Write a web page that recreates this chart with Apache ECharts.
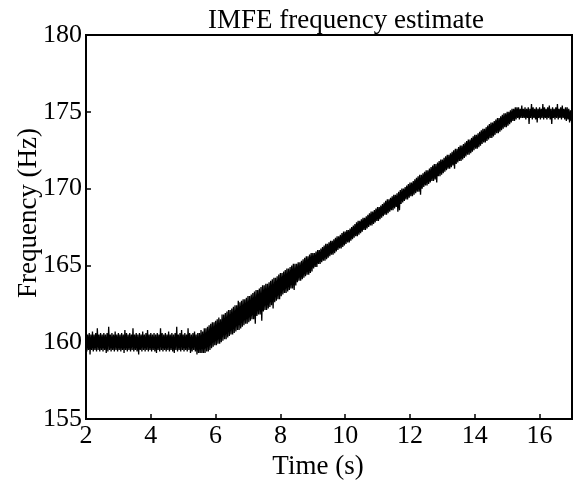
<!DOCTYPE html>
<html>
<head>
<meta charset="utf-8">
<script src="https://cdn.jsdelivr.net/npm/echarts@6/dist/echarts.min.js"></script>
<style>
html,body{margin:0;padding:0;background:#fff;}
#chart{width:574px;height:483px;}
</style>
</head>
<body>
<div id="chart"></div>
<script>
// Sampled IMFE frequency estimate (Hz), one sample every 0.025 s from 2 s to 17 s
var timeStart = 2;
var timeStep = 0.025;
var freqHz = [
  // 2.0 - 2.475
  160.6,159.4,160.5,159.5,160.6,159.2,160.5,159.5,160.7,159.4,160.5,159.5,160.6,159.4,160.9,159.5,160.5,159.4,160.6,159.5,
  // 2.5 - 2.975
  160.5,159.4,160.6,159.5,160.5,159.3,160.6,159.4,161.0,159.5,160.5,159.4,160.6,159.5,160.5,159.4,160.7,159.5,160.5,159.4,
  // 3.0 - 3.475
  160.6,159.5,160.5,159.4,160.6,159.5,160.5,159.3,160.8,159.5,160.6,159.4,160.5,159.5,160.6,159.4,160.5,159.5,160.9,159.4,
  // 3.5 - 3.975
  160.5,159.5,160.6,159.4,160.5,159.2,160.6,159.5,160.5,159.4,160.7,159.5,160.5,159.4,160.6,159.5,160.8,159.4,160.5,159.5,
  // 4.0 - 4.475
  160.6,159.4,160.5,159.5,160.6,159.4,160.5,159.3,160.6,159.5,160.5,159.4,160.9,159.5,160.6,159.4,160.5,159.5,160.6,159.4,
  // 4.5 - 4.975
  160.5,159.5,160.7,159.4,160.5,159.5,160.6,159.4,160.5,159.3,160.6,159.5,161.0,159.4,160.5,159.5,160.6,159.4,160.8,159.5,
  // 5.0 - 5.475
  160.5,159.4,160.6,159.5,160.5,159.4,160.9,159.5,160.6,159.3,160.5,159.4,160.6,159.5,160.7,159.4,160.5,159.2,160.6,159.3,
  // 5.5 - 5.975
  160.6,159.3,160.8,159.3,160.7,159.3,160.9,159.3,160.9,159.4,161.0,159.4,161.1,159.5,161.2,159.6,161.3,159.7,161.3,159.8,
  // 6.0 - 6.475
  161.4,159.8,161.5,159.9,161.6,159.9,161.5,160.0,161.8,160.1,161.8,160.2,161.9,160.2,162.0,160.3,162.1,160.4,162.1,160.5,
  // 6.5 - 6.975
  162.2,160.5,162.3,160.6,162.4,160.7,162.4,160.8,162.7,160.8,162.6,160.9,162.7,161.0,162.8,161.1,162.8,161.2,162.9,161.2,
  // 7.0 - 7.475
  163.0,161.3,163.0,161.4,163.1,161.5,163.2,161.5,163.3,161.2,163.4,161.7,163.4,161.8,163.5,161.8,163.6,161.4,163.7,162.0,
  // 7.5 - 7.975
  163.7,162.1,163.8,162.1,163.8,162.2,163.9,162.3,164.0,162.4,164.1,162.2,164.2,162.6,164.2,162.7,164.3,162.8,164.4,162.8,
  // 8.0 - 8.475
  164.5,163.0,164.5,163.1,164.6,163.2,164.7,163.2,164.8,163.3,164.8,163.4,164.9,163.5,165.0,163.5,165.1,163.4,165.1,163.7,
  // 8.5 - 8.975
  165.1,163.9,165.2,164.0,165.2,164.0,165.3,164.1,165.4,164.2,165.5,164.3,165.6,164.4,165.6,164.4,165.7,164.5,165.8,164.6,
  // 9.0 - 9.475
  165.8,164.8,165.8,164.9,165.9,164.9,166.0,165.1,166.0,165.1,166.1,165.2,166.2,165.3,166.3,165.3,166.4,165.4,166.4,165.5,
  // 9.5 - 9.975
  166.5,165.6,166.6,165.7,166.6,165.7,166.7,165.8,166.8,165.9,166.9,166.0,166.9,166.1,167.0,166.1,167.1,166.2,167.2,166.3,
  // 10.0 - 10.475
  167.2,166.4,167.3,166.5,167.3,166.5,167.4,166.6,167.5,166.7,167.6,166.8,167.7,166.9,167.8,166.9,167.9,167.0,167.9,167.1,
  // 10.5 - 10.975
  168.0,167.2,168.1,167.3,168.1,167.3,168.2,167.4,168.3,167.5,168.4,167.6,168.5,167.6,168.5,167.7,168.6,167.8,168.7,167.9,
  // 11.0 - 11.475
  168.8,167.9,168.8,168.0,168.9,168.1,169.0,168.2,169.1,168.3,169.2,168.3,169.3,168.4,169.3,168.5,169.4,168.6,169.5,168.6,
  // 11.5 - 11.975
  169.6,168.7,169.6,168.8,169.7,168.5,169.8,168.6,169.9,169.0,170.0,169.1,170.0,169.2,170.1,169.3,170.2,169.3,170.3,169.4,
  // 12.0 - 12.475
  170.4,169.5,170.4,169.5,170.5,169.6,170.6,169.7,170.7,169.8,170.8,169.8,170.9,169.6,170.9,170.0,171.0,170.1,171.1,170.2,
  // 12.5 - 12.975
  171.2,170.2,171.2,170.3,171.3,170.4,171.4,170.5,171.5,170.5,171.6,170.6,171.6,170.4,171.7,170.8,171.8,170.8,171.9,170.9,
  // 13.0 - 13.475
  171.9,171.0,172.0,171.1,172.1,171.2,172.2,171.3,172.2,171.3,172.3,171.4,172.4,171.5,172.5,171.3,172.6,171.6,172.6,171.7,
  // 13.5 - 13.975
  172.7,171.8,172.8,171.8,172.8,171.9,172.9,172.0,173.0,172.1,173.1,172.2,173.2,172.2,173.2,172.3,173.3,172.4,173.4,172.5,
  // 14.0 - 14.475
  173.5,172.6,173.5,172.6,173.6,172.7,173.7,172.8,173.8,172.9,173.9,173.0,173.9,173.0,174.0,173.1,174.1,173.2,174.2,173.3,
  // 14.5 - 14.975
  174.3,173.3,174.3,173.4,174.4,173.5,174.5,173.6,174.6,173.6,174.6,173.7,174.7,173.8,174.8,173.9,174.9,174.0,174.9,174.0,
  // 15.0 - 15.475
  175.0,174.1,175.0,174.2,175.1,174.3,175.2,174.4,175.2,174.4,175.3,174.5,175.3,174.6,175.3,174.5,175.2,174.6,175.4,174.6,
  // 15.5 - 15.975
  175.2,174.6,175.3,174.5,175.2,174.6,175.3,174.2,175.2,174.6,175.5,174.5,175.3,174.6,175.2,174.5,175.3,174.3,175.2,174.6,
  // 16.0 - 16.475
  175.3,174.5,175.2,174.6,175.5,174.5,175.3,174.6,175.2,174.5,175.3,174.6,175.4,174.5,175.2,174.2,175.3,174.6,175.2,174.5,
  // 16.5 - 17.0
  175.3,174.6,175.5,174.5,175.2,174.6,175.3,174.5,175.4,174.6,175.2,174.5,175.3,174.4,175.3,174.5,175.2,174.3,175.1,174.4,174.8
];
var xTicks = { min: 2, max: 17, interval: 2 };
var yTicks = { min: 155, max: 180, interval: 5 };
var titleText = 'IMFE frequency estimate';
var xName = 'Time (s)';
var yName = 'Frequency (Hz)';

var seriesData = freqHz.map(function (v, i) {
  return [+(timeStart + i * timeStep).toFixed(3), v];
});

var FONT = '"Liberation Serif", "Times New Roman", serif';
var chart = echarts.init(document.getElementById('chart'), null, { renderer: 'canvas' });
chart.setOption({
  animation: false,
  backgroundColor: '#fff',
  title: {
    text: titleText,
    left: 208,
    top: 7,
    padding: 0,
    textStyle: { fontFamily: FONT, fontSize: 27, fontWeight: 'normal', color: '#000' }
  },
  grid: {
    left: 86, top: 35, width: 486, height: 384,
    outerBoundsMode: 'none',
    show: true, borderColor: '#000', borderWidth: 2, backgroundColor: 'transparent',
    containLabel: false
  },
  xAxis: {
    type: 'value',
    min: xTicks.min, max: xTicks.max, interval: xTicks.interval,
    name: xName, nameLocation: 'middle', nameGap: 29,
    nameTextStyle: { fontFamily: FONT, fontSize: 27, color: '#000', padding: [0, 22, 0, 0] },
    axisLine: { show: true, lineStyle: { color: '#000', width: 2 } },
    axisTick: { show: true, inside: true, length: 5, lineStyle: { color: '#000', width: 1.5 } },
    axisLabel: { fontFamily: FONT, fontSize: 26, color: '#000', margin: 4, showMaxLabel: false },
    splitLine: { show: false }
  },
  yAxis: {
    type: 'value',
    min: yTicks.min, max: yTicks.max, interval: yTicks.interval,
    name: yName, nameLocation: 'middle', nameGap: 44, nameMoveOverlap: false,
    nameTextStyle: { fontFamily: FONT, fontSize: 27, color: '#000', padding: [0, 0, 0, 28] },
    axisLine: { show: true, lineStyle: { color: '#000', width: 2 } },
    axisTick: { show: true, inside: true, length: 5, lineStyle: { color: '#000', width: 1.5 } },
    axisLabel: { fontFamily: FONT, fontSize: 26, color: '#000', margin: 4 },
    splitLine: { show: false }
  },
  series: [{
    type: 'line',
    data: seriesData,
    showSymbol: false,
    symbol: 'none',
    sampling: null,
    lineStyle: { color: '#000', width: 1.3 },
    emphasis: { disabled: true }
  }]
});
</script>
</body>
</html>
